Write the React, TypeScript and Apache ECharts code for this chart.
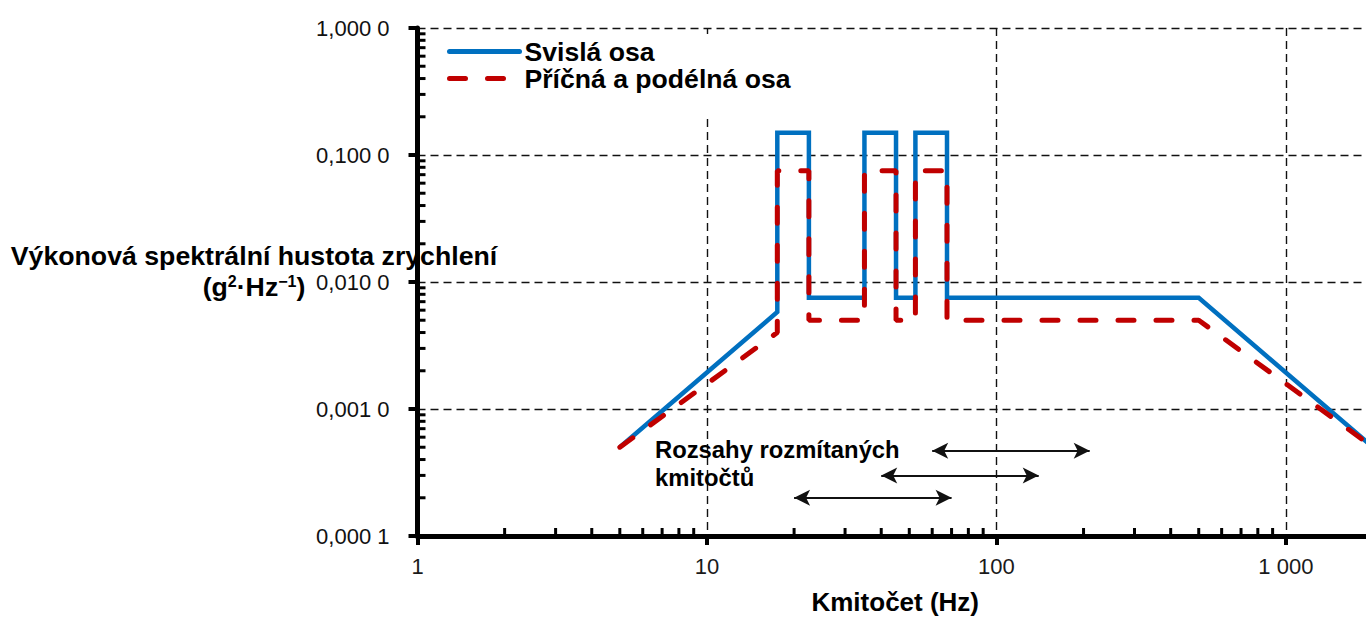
import React, { useEffect, useRef } from "react";
import * as echarts from "echarts";

// ---- Data ----
const freqHz = [5, 17.5, 17.5, 22.5, 22.5, 35, 35, 45, 45, 52.5, 52.5, 67.5, 67.5, 500, 2000];
const verticalPsd = [0.0005, 0.0058, 0.15, 0.15, 0.0075, 0.0075, 0.15, 0.15, 0.0075, 0.0075, 0.15, 0.15, 0.0075, 0.0075, 0.0005];
const lateralPsd = [0.0005, 0.004, 0.075, 0.075, 0.005, 0.005, 0.075, 0.075, 0.005, 0.005, 0.075, 0.075, 0.005, 0.005, 0.0005];

const sweepStart = [20, 40, 60];
const sweepEnd = [70, 140, 210];
const sweepLevel = [0.0002, 0.0003, 0.00047];

const seriesNames = ["Svislá osa", "Příčná a podélná osa"];
const xTickLabels = ["1", "10", "100", "1 000"];
const yTickLabels = ["0,000 1", "0,001 0", "0,010 0", "0,100 0", "1,000 0"];
const xDecades = [1, 10, 100, 1000];
const yDecades = [0.0001, 0.001, 0.01, 0.1];
const minorFactors = [2, 3, 4, 5, 6, 7, 8, 9];

const X_MIN = 1;
const X_MAX = 2000;
const Y_MIN = 0.0001;
const Y_MAX = 1;

const FONT = "'Liberation Sans', Arial, Helvetica, sans-serif";
const NARROW = "'Liberation Sans Narrow', 'Arial Narrow', 'Liberation Sans', Arial, sans-serif";

const xMinor = xDecades.flatMap((d) => minorFactors.map((f) => d * f)).filter((v) => v <= X_MAX);
const yMinor = yDecades.flatMap((d) => minorFactors.map((f) => d * f));

function isPow10(v: number) {
  const l = Math.log10(v);
  return Math.abs(l - Math.round(l)) < 1e-6;
}

export default function App() {
  const ref = useRef<HTMLDivElement>(null);

  useEffect(() => {
    if (!ref.current) return;
    const chart = echarts.init(ref.current, undefined, { renderer: "svg" });

    const blueData = freqHz.map((f, i) => [f, verticalPsd[i]]);
    const redData = freqHz.map((f, i) => [f, lateralPsd[i]]);
    const arrows = sweepStart.map((s, i) => [
      { coord: [s, sweepLevel[i]] },
      { coord: [sweepEnd[i], sweepLevel[i]] },
    ]);

    const gridDash = { color: "#111", width: 1.4, type: [8, 5] as any };
    const TICK = 8;

    chart.setOption({
      animation: false,
      backgroundColor: "#fff",
      textStyle: { fontFamily: FONT },
      grid: {
        left: 417.5,
        right: -7,
        top: 28,
        bottom: 81,
        containLabel: false,
        outerBoundsMode: "none",
      },
      legend: {
        data: seriesNames,
        orient: "vertical",
        left: 438,
        top: 34,
        padding: [4, 10, 26, 9],
        itemGap: 0,
        itemWidth: 70,
        itemHeight: 14,
        backgroundColor: "#fff",
        selectedMode: false,
        itemStyle: { opacity: 0, color: "rgba(0,0,0,0)", borderWidth: 0 },
        lineStyle: { width: 5, cap: "round" },
        textStyle: { fontSize: 26.6, lineHeight: 26, fontWeight: "bold", color: "#000", fontFamily: FONT },
      },
      xAxis: [
        {
          type: "log",
          logBase: 10,
          min: X_MIN,
          max: X_MAX,
          position: "bottom",
          name: "Kmitočet (Hz)",
          nameLocation: "middle",
          nameGap: 55,
          nameTextStyle: {
            fontSize: 26,
            lineHeight: 22,
            fontWeight: "bold",
            color: "#000",
            fontFamily: FONT,
          },
          axisLine: { show: true, lineStyle: { color: "#000", width: 5 } },
          axisTick: { show: true, inside: false, length: 9, lineStyle: { color: "#000", width: 4 } },
          axisLabel: {
            margin: 19,
            fontSize: 22,
            color: "#1a1a1a",
            fontFamily: NARROW,
            showMaxLabel: false,
            formatter: (v: number) => (isPow10(v) ? xTickLabels[Math.round(Math.log10(v))] ?? "" : ""),
          },
          splitLine: { show: true, lineStyle: gridDash },
        },
      ],
      yAxis: [
        {
          type: "log",
          logBase: 10,
          min: Y_MIN,
          max: Y_MAX,
          position: "left",
          axisLine: { show: true, lineStyle: { color: "#000", width: 5 } },
          axisTick: { show: true, inside: false, length: 9, lineStyle: { color: "#000", width: 4 } },
          axisLabel: {
            margin: 28,
            fontSize: 22,
            color: "#111",
            fontFamily: FONT,
            formatter: (v: number) =>
              isPow10(v) ? yTickLabels[Math.round(Math.log10(v)) + 4] ?? "" : "",
          },
          splitLine: { show: true, lineStyle: gridDash },
        },
      ],
      series: [
        {
          name: seriesNames[0],
          type: "line",
          data: blueData,
          symbol: "none",
          showSymbol: false,
          lineStyle: { color: "#0070C0", width: 4.5, join: "miter" },
          itemStyle: { color: "#0070C0" },
          z: 3,
          markLine: {
            silent: true,
            symbol: ["arrow", "arrow"],
            symbolSize: [12, 16],
            label: { show: false },
            lineStyle: { color: "#111", width: 2, type: "solid" },
            emphasis: { disabled: true },
            data: arrows,
          },
        },
        {
          name: seriesNames[1],
          type: "line",
          data: redData,
          symbol: "none",
          showSymbol: false,
          lineStyle: { color: "#C00000", width: 5, type: [16, 22], cap: "round" },
          itemStyle: { color: "#C00000" },
          z: 4,
        },
        {
          name: "xMinorTicks",
          type: "custom",
          silent: true,
          clip: false,
          z: 5,
          data: xMinor.map((v) => [v, Y_MIN]),
          renderItem: (params: any, api: any) => {
            const p = api.coord([api.value(0), api.value(1)]);
            return {
              type: "line",
              shape: { x1: p[0], y1: p[1], x2: p[0], y2: p[1] - TICK },
              style: { stroke: "#000", lineWidth: 3 },
            };
          },
        },
        {
          name: "yMinorTicks",
          type: "custom",
          silent: true,
          clip: false,
          z: 5,
          data: yMinor.map((v) => [X_MIN, v]),
          renderItem: (params: any, api: any) => {
            const p = api.coord([api.value(0), api.value(1)]);
            return {
              type: "line",
              shape: { x1: p[0], y1: p[1], x2: p[0] + TICK, y2: p[1] },
              style: { stroke: "#000", lineWidth: 3 },
            };
          },
        },
      ],
      graphic: [
        {
          type: "text",
          x: 254,
          y: 256,
          z: 10,
          style: {
            text: "Výkonová spektrální hustota zrychlení",
            font: `bold 26.7px ${FONT}`,
            fontSize: 26.7,
            fontWeight: "bold",
            fontFamily: FONT,
            fill: "#000",
            align: "center",
            verticalAlign: "middle",
            textAlign: "center",
            textVerticalAlign: "middle",
          },
        },
        {
          type: "text",
          x: 254,
          y: 287,
          z: 10,
          style: {
            text: "{b|(g}{s|2}{b|·Hz}{s|−1}{b|)}",
            align: "center",
            verticalAlign: "middle",
            textAlign: "center",
            textVerticalAlign: "middle",
            fill: "#000",
            rich: {
              b: { fontSize: 26.7, fontWeight: "bold", fontFamily: FONT, lineHeight: 28, fill: "#000" },
              s: { fontSize: 16, fontWeight: "bold", fontFamily: FONT, lineHeight: 6, verticalAlign: "top", fill: "#000" },
            },
          },
        },
        {
          type: "text",
          x: 655,
          y: 463,
          z: 10,
          style: {
            text: "Rozsahy rozmítaných\nkmitočtů",
            fontSize: 23.8,
            fontWeight: "bold",
            fontFamily: FONT,
            lineHeight: 28,
            fill: "#000",
            align: "left",
            verticalAlign: "middle",
            textAlign: "left",
            textVerticalAlign: "middle",
          },
        },
      ],
    });

    return () => chart.dispose();
  }, []);

  return (
    <div
      ref={ref}
      style={{ position: "fixed", left: 0, top: 0, width: 1366, height: 617, background: "#fff" }}
    />
  );
}
